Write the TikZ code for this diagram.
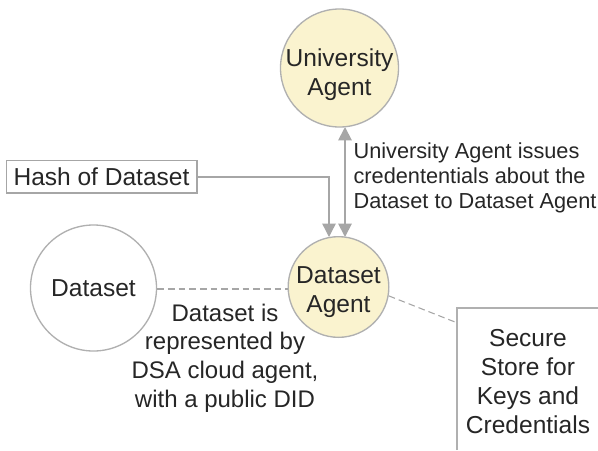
\documentclass[tikz,border=0pt]{standalone}
\usepackage{fontspec}
\setmainfont{Liberation Sans}
\usetikzlibrary{arrows.meta}
\definecolor{agentfill}{HTML}{FAF3CF}
\definecolor{edgegray}{HTML}{A6A6A6}
\definecolor{circgray}{HTML}{B0B0B0}
\definecolor{inkgray}{HTML}{262626}
\tikzset{
  every node/.style={text=inkgray,font=\fontsize{18.4}{21.6}\selectfont,align=center,inner sep=0pt},
  agent/.style={circle,draw=circgray,line width=1pt,fill=agentfill,minimum size=#1},
  plainnode/.style={circle,draw=circgray,line width=1pt,fill=white,minimum size=#1},
  boxnode/.style={draw=edgegray,line width=1pt,fill=white,inner sep=0pt},
  arrowline/.style={draw=edgegray,line width=1pt,-{Triangle[length=10pt,width=10pt,fill=edgegray]}},
  biarrow/.style={draw=edgegray,line width=1.4pt,{Triangle[length=10pt,width=10pt,fill=edgegray]}-{Triangle[length=10pt,width=10pt,fill=edgegray]}},
  dashline/.style={draw=edgegray,line width=0.8pt,dash pattern=on 5pt off 3pt},
  storeline/.style={draw=circgray,line width=1.3pt},
  capsmall/.style={font=\fontsize{16.3}{18.8}\selectfont,align=left},
  capbig/.style={font=\fontsize{18}{21.6}\selectfont}
}
\begin{document}
\begin{tikzpicture}[x=0.75pt,y=-0.75pt]
\useasboundingbox (0,0) rectangle (598,450);
\fill[white] (0,0) rectangle (598,450);
\node[agent=88.5pt,label={[yshift=-5.2pt]center:{University\\Agent}}] (univ) at (339.5,68) {};
\node[agent=75.5pt,label={[yshift=-3.8pt]center:{Dataset\\Agent}}] (dsa) at (338.5,287) {};
\node[plainnode=94.5pt] (data) at (93.5,288) {Dataset};
\node[boxnode,minimum width=143pt,minimum height=24.5pt] (hash) at (101.5,176.5) {Hash of Dataset};
\coordinate (storecorner) at (457,308);
\coordinate (storeright) at (598,308);
\coordinate (storeleft) at (457,450);
\coordinate (storetouch) at (455,322);
\draw[storeline] (storeleft) -- (storecorner) -- (storeright);
\node (store) at (528,381.5) {Secure\\Store for\\Keys and\\Credentials};
\node[capsmall] (univcap) at (475,177.5) {University Agent issues\\credententials about the\\Dataset to Dataset Agent};
\node[capbig] (datacap) at (225,358) {Dataset is\\represented by\\DSA cloud agent,\\with a public DID};
\coordinate (bendpt) at (329,177);
\coordinate (inleft) at (329,237);
\coordinate (bitop) at (345,127);
\coordinate (bibot) at (345,237);
\draw[arrowline] (hash.east |- bendpt) -- (bendpt) -- (inleft);
\draw[biarrow] (bitop) -- (bibot);
\draw[dashline] (data.east |- dsa.center) ++(0,2) -- (dsa.west |- 0,289);
\draw[dashline] (dsa.-10) -- (storetouch);
\end{tikzpicture}
\end{document}
